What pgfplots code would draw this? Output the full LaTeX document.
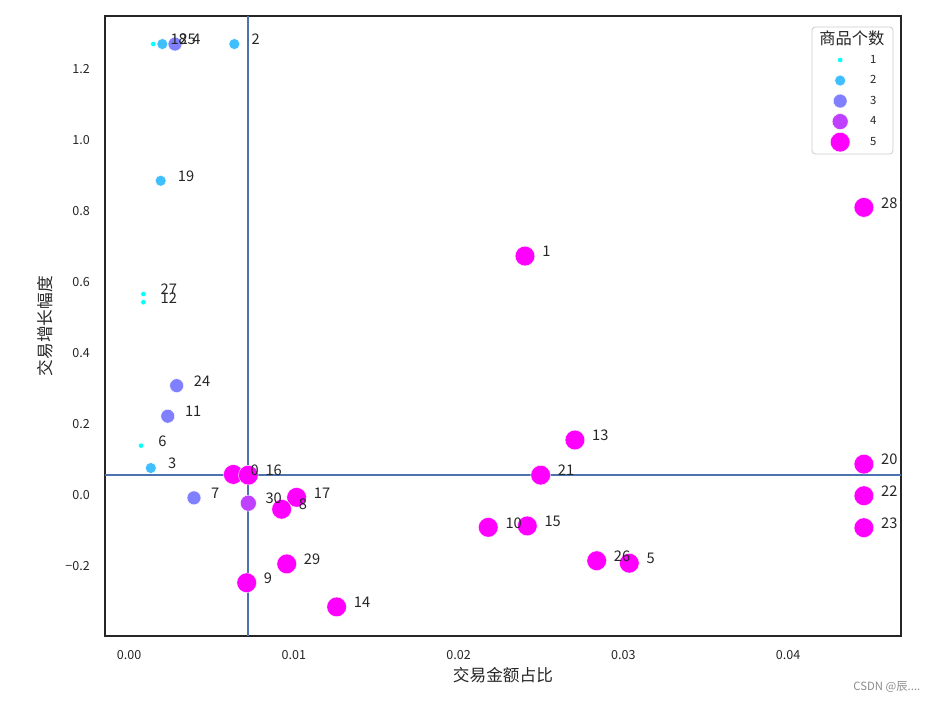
\documentclass[border=0pt]{standalone}
\usepackage{fontspec}
\setmainfont{Noto Sans CJK SC}
\usepackage{pgfplots}
\pgfplotsset{compat=1.18}
\usepackage{pgfplotstable}

\definecolor{c1}{RGB}{0,255,255}
\definecolor{c2}{RGB}{64,191,255}
\definecolor{c3}{RGB}{128,128,255}
\definecolor{c4}{RGB}{191,64,255}
\definecolor{c5}{RGB}{255,0,255}
\definecolor{txt}{RGB}{38,38,38}
\definecolor{refline}{RGB}{76,114,176}

% size 1
\pgfplotstableread{
x y lab
0.00147 1.270 18
0.00087 0.566 27
0.00087 0.543 12
0.00073 0.139 6
}\gA
% size 2
\pgfplotstableread{
x y lab
0.00202 1.270 25
0.00639 1.270 2
0.00192 0.885 19
0.00132 0.076 3
}\gB
% size 3
\pgfplotstableread{
x y lab
0.00279 1.270 4
0.00289 0.308 24
0.00235 0.222 11
0.00394 -0.008 7
}\gC
% size 4
\pgfplotstableread{
x y lab
0.00724 -0.023 30
}\gD
% size 5
\pgfplotstableread{
x y lab
0.00633 0.058 0
0.00724 0.056 16
0.01017 -0.0065 17
0.00926 -0.040 8
0.00957 -0.194 29
0.00714 -0.247 9
0.01260 -0.315 14
0.02180 -0.091 10
0.02417 -0.087 15
0.02403 0.673 1
0.02706 0.155 13
0.02498 0.056 21
0.02838 -0.185 26
0.03036 -0.192 5
0.04460 0.810 28
0.04460 0.087 20
0.04460 -0.002 22
0.04460 -0.092 23
}\gE

\begin{document}
\begin{tikzpicture}
\begin{axis}[
  name=ax,
  scale only axis, width=597pt, height=465pt,
  xmin=-0.00146, xmax=0.04685, ymin=-0.397, ymax=1.349,
  xtick={0,0.01,0.02,0.03,0.04},
  xticklabels={0.00,0.01,0.02,0.03,0.04},
  ytick={-0.2,0,0.2,0.4,0.6,0.8,1.0,1.2},
  yticklabels={−0.2,0.0,0.2,0.4,0.6,0.8,1.0,1.2},
  scaled x ticks=false, scaled y ticks=false,
  major tick length=0pt,
  axis line style={draw=txt, line width=1.2pt},
  ticklabel style={font=\fontsize{9.4}{11}\selectfont, text=txt, inner sep=0pt},
  xticklabel style={anchor=north, yshift=-10.5pt},
  yticklabel style={anchor=east, xshift=-11.25pt},
  clip=false,
  xlabel={交易金额占比}, ylabel={交易增长幅度},
  label style={font=\fontsize{12.5}{14}\selectfont, text=txt},
  xlabel style={at={(axis description cs:0.5,-0.0629)}, anchor=center},
  ylabel style={at={(axis description cs:-0.0754,0.5)}, anchor=center},
  legend style={at={(rel axis cs:0.9112,0.9456)}, anchor=north west,
    draw=none, fill=none, inner sep=0pt, outer sep=0pt,
    column sep=15pt, row sep=0pt,
    nodes={inner sep=0pt, minimum height=15.4pt, font=\fontsize{8.5}{10}\selectfont, text=txt}},
  legend cell align=left,
  legend image code/.code={\draw[mark repeat=2,mark phase=2] plot coordinates {(0pt,0pt) (8pt,0pt) (16pt,0pt)};},
  nodes near coords style={anchor=west, inner sep=0pt, xshift=12.75pt, yshift=3.4pt,
    font=\fontsize{11}{13}\selectfont, text=txt},
]
% legend frame and title
\draw[rounded corners=2.5pt, draw=black!20, fill=white, line width=0.6pt]
  (rel axis cs:0.8882,0.7774) rectangle (rel axis cs:0.9899,0.9823);
\node[font=\fontsize{12.2}{14}\selectfont, text=txt] at (rel axis cs:0.9384,0.9645) {商品个数};

\addplot[only marks, mark=*, mark size=2.0pt, mark options={fill=c1, draw=white, line width=0.3pt}] table[x=x,y=y] {\gA};
\addlegendentry{1}
\addplot[only marks, mark=*, mark size=4.1pt, mark options={fill=c2, draw=white, line width=0.3pt}] table[x=x,y=y] {\gB};
\addlegendentry{2}
\addplot[only marks, mark=*, mark size=5.2pt, mark options={fill=c3, draw=white, line width=0.3pt}] table[x=x,y=y] {\gC};
\addlegendentry{3}
\addplot[only marks, mark=*, mark size=6.0pt, mark options={fill=c4, draw=white, line width=0.3pt}] table[x=x,y=y] {\gD};
\addlegendentry{4}
\addplot[only marks, mark=*, mark size=7.4pt, mark options={fill=c5, draw=white, line width=0.3pt}] table[x=x,y=y] {\gE};
\addlegendentry{5}

% reference lines
\addplot[forget plot, refline, line width=1.4pt] coordinates {(0.00722,-0.397) (0.00722,1.349)};
\addplot[forget plot, refline, line width=1.4pt] coordinates {(-0.00146,0.057) (0.04685,0.057)};

% point labels
\addplot[forget plot, only marks, mark=none, nodes near coords, point meta=explicit symbolic] table[x=x,y=y,meta=lab] {\gA};
\addplot[forget plot, only marks, mark=none, nodes near coords, point meta=explicit symbolic] table[x=x,y=y,meta=lab] {\gB};
\addplot[forget plot, only marks, mark=none, nodes near coords, point meta=explicit symbolic] table[x=x,y=y,meta=lab] {\gC};
\addplot[forget plot, only marks, mark=none, nodes near coords, point meta=explicit symbolic] table[x=x,y=y,meta=lab] {\gD};
\addplot[forget plot, only marks, mark=none, nodes near coords, point meta=explicit symbolic] table[x=x,y=y,meta=lab] {\gE};

% watermark
\node[anchor=east, font=\fontsize{8.5}{10}\selectfont, text=black!45] at (rel axis cs:1.0302,-0.0823) {CSDN @辰....};

% page extent
\path (rel axis cs:-0.1319,-0.1065) rectangle (rel axis cs:1.0490,1.0258);
\end{axis}
\end{tikzpicture}
\end{document}
